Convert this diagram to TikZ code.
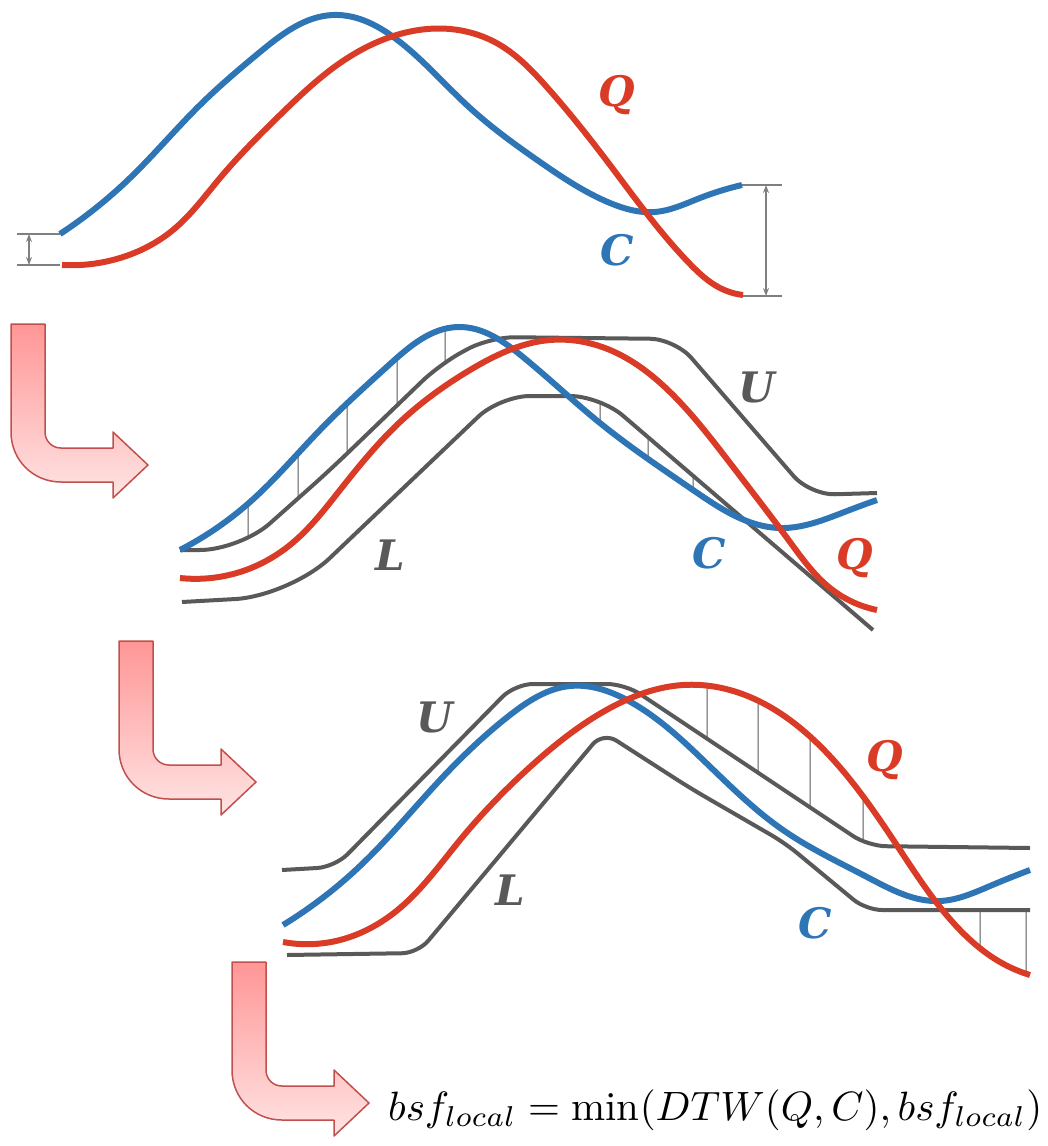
\documentclass[tikz,border=0pt]{standalone}
\usepackage{fontspec}
\usepackage{graphicx}
\newfontfamily\lblfont{DejaVu Serif}
\usetikzlibrary{arrows.meta,intersections,hobby}
\definecolor{cblue}{RGB}{46,117,182}
\definecolor{cred}{RGB}{218,59,38}
\definecolor{cgray}{RGB}{89,89,89}
\definecolor{dimgray}{RGB}{127,127,127}
\definecolor{arrtop}{RGB}{255,150,150}
\definecolor{arrbot}{RGB}{255,228,228}
\definecolor{arredge}{RGB}{192,80,77}
\tikzset{
 seriesC/.style={cblue, line width=6pt},
 seriesQ/.style={cred, line width=6pt},
 envelope/.style={cgray, line width=4pt, line join=round},
 hatchline/.style={cgray, line width=1pt},
 dimline/.style={dimgray, line width=1.5pt},
 dimarrow/.style={dimgray, line width=1.5pt, {Stealth[length=8pt,width=6pt]}-{Stealth[length=8pt,width=6pt]}},
 lbl/.style={font=\lblfont\bfseries\itshape\fontsize{42}{44}\selectfont, inner sep=0pt},
 bentarrow/.style={draw=arredge, line width=1.5pt, top color=arrtop, bottom color=arrbot, line join=round},
}
\newcommand\hatchbetween[3]{%
 \path[name path=vl] (#1,0) -- (#1,1146);
 \path[name intersections={of=#2 and vl, name=ia}, name intersections={of=#3 and vl, name=ib}]
   coordinate (ha) at (ia-1) coordinate (hb) at (ib-1);
 \draw[hatchline] (ha) -- (hb);
}
\newcommand\bentarrowshape{%
 (11,324) -- (45,324) -- (45,432) .. controls (45,441) and (52,448) .. (61,448)
 -- (113,448) -- (113,432) -- (148,465) -- (113,498) -- (113,482) -- (61,482)
 .. controls (33,482) and (11,460) .. (11,432) -- cycle}
% curve definitions
\newcommand\pathCone{(60,234) to[curve through={(130,178) (200,105) (260,52) (333,15) (400,42) (470,108) (540,162) (610,203) (655,212) (700,198)}] (742,185)}
\newcommand\pathQone{(62,265) to[curve through={(120,258) (173,230) (220,178) (280,115) (340,63) (400,34) (450,29) (500,45) (545,85) (610,165) (690,264) (720,288)}] (743,295)}
\newcommand\pathUtwo{[rounded corners=25pt] (180,550) [rounded corners=40pt] -- (240,550) [rounded corners=25pt] -- (330,470) -- (440,364) -- (490,337) -- (675,339) -- (810,495) -- (877,493)}
\newcommand\pathLtwo{[rounded corners=30pt] (182,602) [rounded corners=55pt] -- (290,596) [rounded corners=30pt] -- (500,396) -- (600,396) -- (873,630)}
\newcommand\pathCtwo{(180,550) to[curve through={(250,502) (320,430) (390,364) (458,327) (523,357) (600,423) (693,490) (780,528) (847,511)}] (877,500)}
\newcommand\pathQtwo{(180,578) to[curve through={(240,572) (290,545) (340,490) (400,422) (470,370) (550,340) (610,350) (670,392) (730,463) (790,542) (830,588)}] (877,610)}
\newcommand\pathUthree{[rounded corners=18pt] (282,870) -- (335,867) -- (515,684) -- (625,684) -- (868,846) -- (1030,848)}
\newcommand\pathLthree{[rounded corners=16pt] (287,955) -- (418,953) -- (603,732) -- (690,788) -- (785,843) -- (866,910) -- (1030,910)}
\newcommand\pathCthree{(283,925) to[curve through={(360,866) (440,780) (510,715) (570,686) (627,700) (700,757) (783,830) (867,877) (940,901) (990,886)}] (1030,870)}
\newcommand\pathQthree{(283,942) to[curve through={(340,940) (400,908) (460,840) (530,767) (610,708) (683,685) (750,697) (817,743) (900,850) (960,930) (1000,962)}] (1030,975)}
\begin{document}
\begin{tikzpicture}[x=1pt,y=-1pt]
\useasboundingbox (0,0) rectangle (1048,1146);

% ---------- bent arrows ----------
\path[bentarrow] \bentarrowshape;
\begin{scope}[shift={(108,317)}]
 \path[bentarrow] \bentarrowshape;
\end{scope}
\begin{scope}[shift={(221,638)}]
 \path[bentarrow] \bentarrowshape;
\end{scope}

% ---------- panel 1 ----------
\draw[dimline] (17,234) -- (60,234);
\draw[dimline] (17,265) -- (60,265);
\coordinate (d1a) at (29,234);
\coordinate (d1b) at (29,265);
\draw[dimarrow] (d1a) -- (d1b);
\draw[dimline] (742,185) -- (782,185);
\draw[dimline] (742,296) -- (782,296);
\coordinate (d2a) at (766,185);
\coordinate (d2b) at (766,296);
\draw[dimarrow] (d2a) -- (d2b);

\draw[seriesC] \pathCone;
\draw[seriesQ] \pathQone;
\node[lbl, text=cred] (q1) at (617,95) {Q};
\node[lbl, text=cblue] (c1) at (617,250) {C};

% ---------- panel 2 ----------
\path[name path=U2] \pathUtwo;
\path[name path=L2] \pathLtwo;
\path[name path=C2] \pathCtwo;
\foreach \xx in {248,298,347,397,445} {\hatchbetween{\xx}{C2}{U2}}
\foreach \xx in {600,648,693} {\hatchbetween{\xx}{L2}{C2}}
\draw[envelope] \pathUtwo;
\draw[envelope] \pathLtwo;
\draw[seriesC] \pathCtwo;
\draw[seriesQ] \pathQtwo;
\node[lbl, text=cgray] (u2) at (757,387) {U};
\node[lbl, text=cgray] (l2) at (390,555) {L};
\node[lbl, text=cblue] (c2) at (709,553) {C};
\node[lbl, text=cred] (q2) at (855,558) {Q};

% ---------- panel 3 ----------
\path[name path=U3] \pathUthree;
\path[name path=L3] \pathLthree;
\path[name path=Q3] \pathQthree;
\foreach \xx in {707,758,810,863} {\hatchbetween{\xx}{Q3}{U3}}
\foreach \xx in {980,1026} {\hatchbetween{\xx}{L3}{Q3}}
\draw[envelope] \pathUthree;
\draw[envelope] \pathLthree;
\draw[seriesC] \pathCthree;
\draw[seriesQ] \pathQthree;
\node[lbl, text=cgray] (u3) at (435,717) {U};
\node[lbl, text=cgray] (l3) at (510,890) {L};
\node[lbl, text=cred] (q3) at (885,760) {Q};
\node[lbl, text=cblue] (c3) at (815,923) {C};

% ---------- equation ----------
\node[anchor=base west, inner sep=0pt] (eq) at (388,1120) {\resizebox{654pt}{!}{$bsf_{local}=\min(DTW(Q,C),bsf_{local})$}};
\end{tikzpicture}
\end{document}
